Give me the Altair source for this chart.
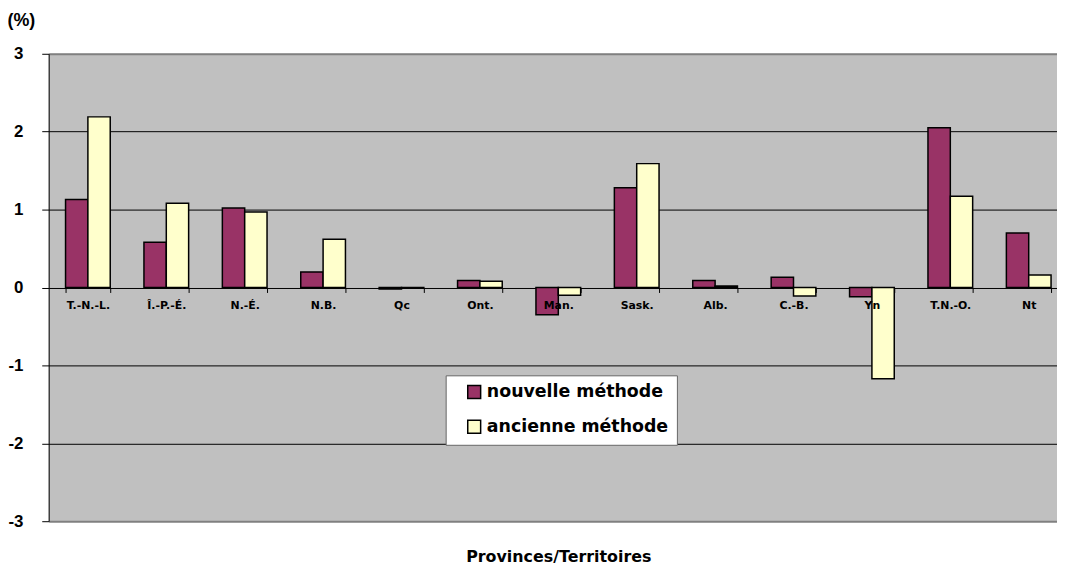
import altair as alt
import pandas as pd

provinces = ["T.-N.-L.", "Î.-P.-É.", "N.-É.", "N.B.", "Qc", "Ont.", "Man.",
             "Sask.", "Alb.", "C.-B.", "Yn", "T.N.-O.", "Nt"]
nouvelle = [1.13, 0.58, 1.02, 0.20, -0.02, 0.09, -0.35, 1.28, 0.09, 0.13, -0.12, 2.05, 0.70]
ancienne = [2.19, 1.08, 0.97, 0.62, -0.01, 0.08, -0.10, 1.59, 0.02, -0.11, -1.17, 1.17, 0.16]
series = ["nouvelle méthode", "ancienne méthode"]
colors = ["#993366", "#FFFFCC"]
y_ticks = [-3, -2, -1, 0, 1, 2, 3]

rows = []
for p, n, a in zip(provinces, nouvelle, ancienne):
    rows.append({"province": p, "serie": series[0], "valeur": n})
    rows.append({"province": p, "serie": series[1], "valeur": a})
df = pd.DataFrame(rows)

FONT = "DejaVu Sans"
FONT2 = "Liberation Sans"

chart = alt.Chart(df).mark_bar(stroke="black", strokeWidth=1.5).encode(
    x=alt.X(
        "province:N", sort=provinces,
        scale=alt.Scale(range=[0, 1027], paddingInner=0.43, paddingOuter=0.215),
        axis=alt.Axis(
            title="Provinces/Territoires", labelAngle=0, offset=-235.5,
            domain=False, ticks=True, tickBand="extent", tickSize=5,
            tickColor="black", tickWidth=1,
            labelFont=FONT, labelFontSize=11, labelFontWeight="bold",
            labelColor="black", labelPadding=7, zindex=1,
            titleFont=FONT, titleFontSize=16, titleFontWeight="bold",
            titleColor="black", titleY=276, titleBaseline="alphabetic",
        ),
    ),
    xOffset=alt.XOffset("serie:N", sort=series),
    y=alt.Y(
        "valeur:Q",
        scale=alt.Scale(domain=[-3, 3], nice=False),
        axis=alt.Axis(
            values=y_ticks, labelExpr="'' + datum.value", title="(%)",
            titleAngle=0, titleX=-28, titleY=-33, titleAlign="center",
            titleBaseline="middle", titleFont=FONT2, titleFontSize=18,
            titleFontWeight="bold", titleColor="black",
            labelFont=FONT2, labelFontSize=17, labelFontWeight="bold",
            labelColor="black", labelPadding=19,
            domain=True, domainColor="black", domainWidth=1,
            tickColor="black", tickSize=7, tickWidth=1,
            grid=True,
            gridColor=alt.ExprRef("abs(datum.value) >= 3 ? '#808080' : 'black'"),
            gridWidth=alt.ExprRef("abs(datum.value) >= 3 ? 2 : 1"),
            gridOpacity=1,
        ),
    ),
    color=alt.Color(
        "serie:N", sort=series,
        scale=alt.Scale(domain=series, range=colors),
        legend=alt.Legend(
            title=None, orient="none", legendX=400, legendY=324,
            fillColor="white", strokeColor="#666666", padding=8,
            symbolType="square", symbolSize=169, symbolStrokeColor="black",
            symbolStrokeWidth=1.5, symbolOffset=12, labelOffset=4,
            labelFont=FONT, labelFontSize=17.5, labelFontWeight="bold",
            labelColor="black", labelLimit=400, rowPadding=15,
        ),
    ),
).properties(
    width=1016, height=471,
    autosize=alt.AutoSizeParams(type="none"),
    padding={"left": 41, "top": 44, "right": 0, "bottom": 42},
    background="white",
).configure_view(
    fill="#C0C0C0", stroke=None,
)

chart.save("out.html", embed_options={"renderer": "svg", "actions": False})
